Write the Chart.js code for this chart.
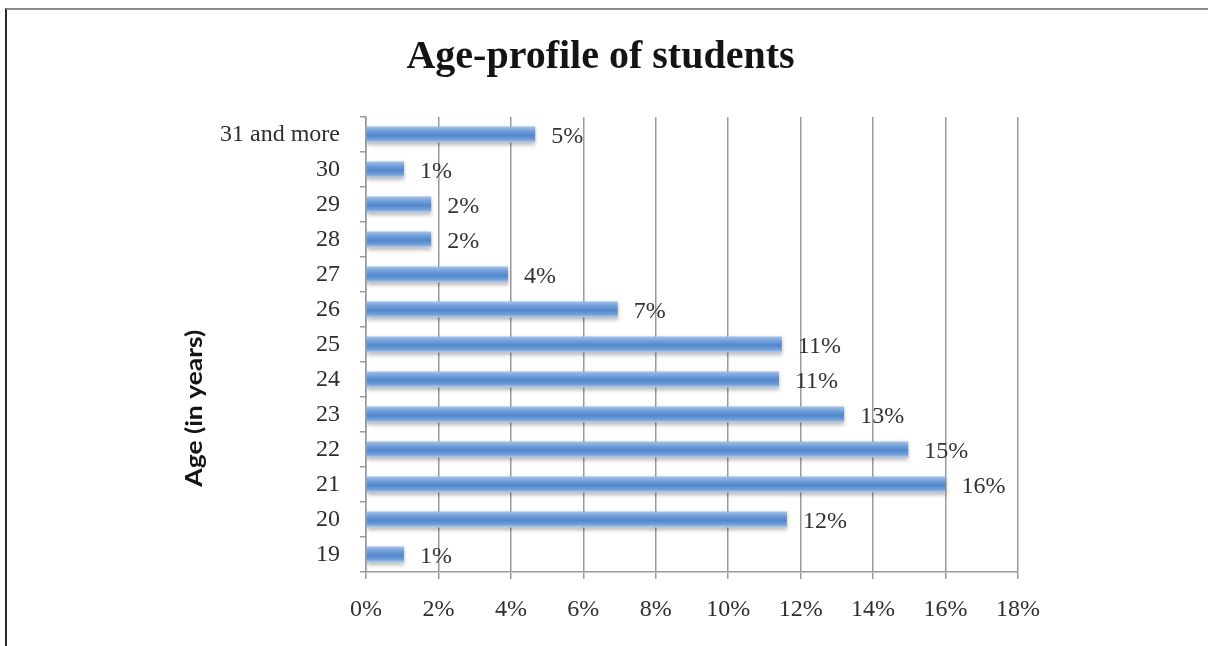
<!DOCTYPE html>
<html>
<head>
<meta charset="utf-8">
<script src="https://cdn.jsdelivr.net/npm/chart.js@4/dist/chart.umd.min.js"></script>
<style>
  html, body { margin: 0; padding: 0; background: #ffffff; }
  #frame {
    position: absolute; left: 5px; top: 8px; width: 1203px; height: 638px;
    border-top: 2px solid #8a8a8a; border-left: 2px solid #2a2a2a;
    box-sizing: border-box;
  }
  #wrap { position: absolute; left: 0; top: 0; width: 1208px; height: 646px; }
</style>
</head>
<body>
<div id="frame"></div>
<div id="wrap"><canvas id="chart" width="1208" height="646"></canvas></div>
<script>
// Age groups, top of the chart first
const ageGroups = ['31 and more', '30', '29', '28', '27', '26', '25', '24', '23', '22', '21', '20', '19'];
// Share of students in each age group (%)
const shares = [4.67, 1.05, 1.8, 1.8, 3.92, 6.95, 11.48, 11.4, 13.2, 14.97, 16.0, 11.62, 1.05];
// Horizontal axis ticks (%)
const xTicks = [0, 2, 4, 6, 8, 10, 12, 14, 16, 18];

const chartTitle = 'Age-profile of students';
const yAxisTitle = 'Age (in years)';

const serif = '"Liberation Serif", "Times New Roman", serif';
const labelFontSize = 24;

// Soft shadow under the bars
const barShadow = {
  id: 'barShadow',
  beforeDatasetsDraw(chart) {
    const c = chart.ctx;
    c.save();
    c.shadowColor = 'rgba(0,0,0,0.28)';
    c.shadowBlur = 4;
    c.shadowOffsetY = 2;
  },
  afterDatasetsDraw(chart) {
    chart.ctx.restore();
  }
};

// Value labels just past the end of each bar
const valueLabels = {
  id: 'valueLabels',
  afterDatasetsDraw(chart) {
    const c = chart.ctx;
    const meta = chart.getDatasetMeta(0);
    c.save();
    c.font = labelFontSize + 'px ' + serif;
    c.fillStyle = '#333333';
    c.textAlign = 'left';
    c.textBaseline = 'middle';
    meta.data.forEach((bar, i) => {
      const v = chart.data.datasets[0].data[i];
      c.fillText(Math.round(v) + '%', bar.x + 16, bar.y + 2);
    });
    c.restore();
  }
};

// Rotated vertical axis title, to the left of the category labels
const axisTitle = {
  id: 'axisTitle',
  afterDraw(chart) {
    const c = chart.ctx;
    const y = chart.scales.y;
    c.save();
    c.translate(y.left + 12, y.top + (y.bottom - y.top) * 0.64);
    c.rotate(-Math.PI / 2);
    c.scale(1.2, 1);
    c.font = 'bold 22px Lato, "Liberation Sans", sans-serif';
    c.fillStyle = '#141414';
    c.textAlign = 'center';
    c.textBaseline = 'middle';
    c.fillText(yAxisTitle, 0, 0);
    c.restore();
  }
};

function barFill(ctx) {
  const chart = ctx.chart;
  const ys = chart.scales.y;
  if (!ys || ctx.dataIndex === undefined) return '#5b8ed1';
  const cy = ys.getPixelForValue(ctx.dataIndex);
  if (!isFinite(cy)) return '#5b8ed1';
  const half = 8;
  const g = chart.ctx.createLinearGradient(0, cy - half, 0, cy + half);
  g.addColorStop(0, '#a3c1e8');
  g.addColorStop(0.3, '#6f9dd8');
  g.addColorStop(0.55, '#5287cd');
  g.addColorStop(0.8, '#6f9dd8');
  g.addColorStop(1, '#b8d0ef');
  return g;
}

new Chart(document.getElementById('chart'), {
  type: 'bar',
  data: {
    labels: ageGroups,
    datasets: [{
      data: shares,
      backgroundColor: barFill,
      borderWidth: 0,
      barPercentage: 0.46,
      categoryPercentage: 1.0
    }]
  },
  options: {
    indexAxis: 'y',
    responsive: false,
    animation: false,
    devicePixelRatio: 1,
    layout: { padding: { top: 0, left: 183, right: 190, bottom: 0 } },
    plugins: {
      legend: { display: false },
      tooltip: { enabled: false },
      title: {
        display: true,
        text: chartTitle,
        color: '#141414',
        font: { family: serif, size: 40, weight: 'bold', lineHeight: 1.2 },
        padding: { top: 34, bottom: 35 }
      }
    },
    scales: {
      x: {
        min: 0,
        max: 18,
        afterBuildTicks(scale) {
          scale.ticks = xTicks.map(v => ({ value: v }));
        },
        afterFit(scale) { scale.height = 74; },
        ticks: {
          callback: v => v + '%',
          color: '#2e2e2e',
          font: { family: serif, size: labelFontSize },
          padding: 16
        },
        grid: {
          color: '#9a9a9a',
          lineWidth: 1.5,
          tickLength: 7,
          drawOnChartArea: true
        },
        border: { color: '#9a9a9a', width: 1.5 }
      },
      y: {
        afterFit(scale) { scale.width = 183; },
        ticks: {
          color: '#2e2e2e',
          font: { family: serif, size: labelFontSize },
          padding: 20,
          autoSkip: false
        },
        grid: {
          offset: true,
          drawOnChartArea: false,
          color: '#9a9a9a',
          lineWidth: 1.5,
          tickLength: 6
        },
        border: { color: '#9a9a9a', width: 1.5 }
      }
    }
  },
  plugins: [barShadow, valueLabels, axisTitle]
});
</script>
</body>
</html>
